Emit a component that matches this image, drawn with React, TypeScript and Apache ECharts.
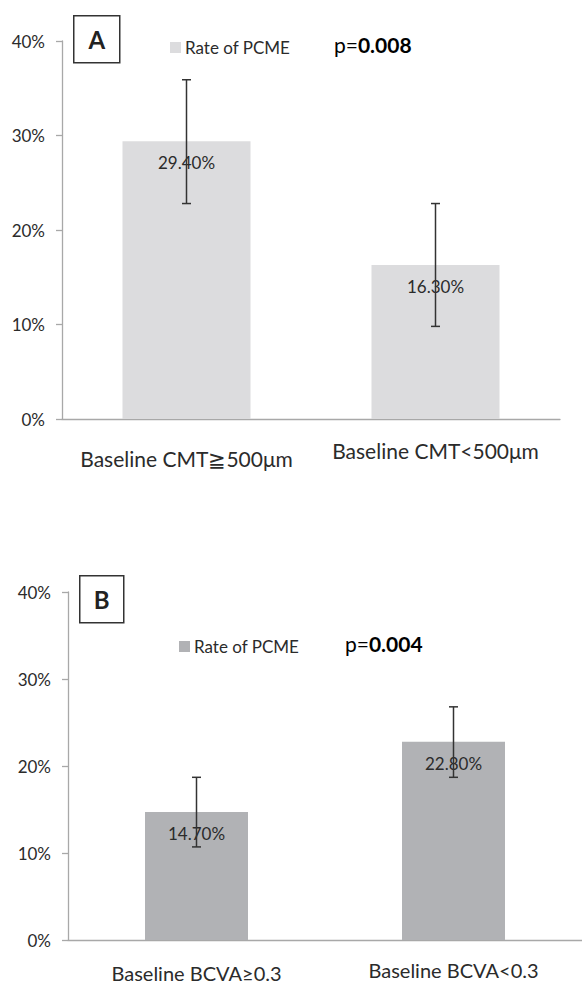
import React, { useEffect, useRef } from "react";
import * as echarts from "echarts";

// ---- Data ----
const categoriesA = ["Baseline CMT≧500μm", "Baseline CMT<500μm"];
const valuesA = [29.4, 16.3];
const lowA = [22.8, 9.8];
const highA = [35.9, 22.8];

const categoriesB = ["Baseline BCVA≥0.3", "Baseline BCVA<0.3"];
const valuesB = [14.7, 22.8];
const lowB = [10.7, 18.7];
const highB = [18.7, 26.8];

const yTicks = [0, 10, 20, 30, 40];
const seriesName = "Rate of PCME";
const pA = "0.008";
const pB = "0.004";
const panelA = "A";
const panelB = "B";

const FONT = "Lato, 'Open Sans', sans-serif";
const TEXT = "#2b2b2b";
const AXIS = "#a8a8a8";
const COLOR_A = "#dcdcde";
const COLOR_B = "#b1b2b5";

function errorRender(params: any, api: any) {
  const x = api.value(0);
  const lo = api.coord([x, api.value(1)]);
  const hi = api.coord([x, api.value(2)]);
  const cap = 4.5;
  const style = { stroke: "#333333", lineWidth: 1.5 };
  return {
    type: "group",
    children: [
      { type: "line", shape: { x1: hi[0], y1: hi[1], x2: lo[0], y2: lo[1] }, style },
      { type: "line", shape: { x1: hi[0] - cap, y1: hi[1], x2: hi[0] + cap, y2: hi[1] }, style },
      { type: "line", shape: { x1: lo[0] - cap, y1: lo[1], x2: lo[0] + cap, y2: lo[1] }, style },
    ],
  };
}

export default function App() {
  const ref = useRef<HTMLDivElement>(null);
  useEffect(() => {
    if (!ref.current) return;
    const chart = echarts.init(ref.current, null, { renderer: "svg" });

    const yAxisBase = (gridIndex: number) => ({
      type: "value",
      gridIndex,
      min: 0,
      max: 40,
      interval: 10,
      splitLine: { show: false },
      axisLine: { show: true, lineStyle: { color: AXIS, width: 1.3 } },
      axisTick: { show: true, length: 6, lineStyle: { color: AXIS, width: 1.3 } },
      axisLabel: {
        margin: 17,
        color: TEXT,
        fontFamily: FONT,
        fontSize: 17,
        formatter: (v: number) => (yTicks.includes(v) ? `${v}%` : ""),
      },
    });

    const xAxisBase = (gridIndex: number, cats: string[], pad: number, margin: number, size: number) => ({
      type: "category",
      gridIndex,
      data: cats,
      axisLine: { show: true, lineStyle: { color: AXIS, width: 1.3 } },
      axisTick: { show: false },
      axisLabel: {
        margin,
        interval: 0,
        color: TEXT,
        fontFamily: FONT,
        fontSize: size,
        formatter: (v: string, i: number) => (i === 0 ? `{a|${v}}` : `{b|${v}}`),
        rich: {
          a: { padding: [pad, 0, 0, 0], fontFamily: FONT, fontSize: size, color: TEXT },
          b: { fontFamily: FONT, fontSize: size, color: TEXT },
        },
      },
    });

    const barLabel = {
      show: true,
      position: "insideTop",
      distance: 13,
      color: TEXT,
      fontFamily: FONT,
      fontSize: 17,
      formatter: (p: any) => `${Number(p.value).toFixed(2)}%`,
    };

    const legendBase = (left: number, top: number, color: string) => ({
      show: true,
      left,
      top,
      padding: 0,
      icon: "rect",
      itemWidth: 11,
      itemHeight: 11,
      selectedMode: false,
      textStyle: { color: TEXT, fontFamily: FONT, fontSize: 17, padding: [0, 0, 0, -1] },
      data: [{ name: seriesName, itemStyle: { color } }],
    });

    const pText = (x: number, y: number, p: string) => ({
      type: "text",
      left: x,
      top: y,
      style: {
        text: `{n|p=}{b|${p}}`,
        rich: {
          n: { fontFamily: FONT, fontSize: 21, color: TEXT },
          b: { fontFamily: FONT, fontSize: 21, fontWeight: "bold", color: TEXT },
        },
      },
    });

    const box = (x: number, y: number, w: number, h: number, letter: string) => ({
      type: "group",
      left: x,
      top: y,
      children: [
        {
          type: "rect",
          shape: { x: 0, y: 0, width: w, height: h },
          style: { fill: "#ffffff", stroke: "#333333", lineWidth: 1.5 },
        },
        {
          type: "text",
          x: w / 2,
          y: h / 2,
          style: {
            text: letter,
            fontFamily: FONT,
            fontSize: 24,
            fontWeight: "bold",
            fill: "#222222",
            align: "center",
            verticalAlign: "middle",
          },
        },
      ],
    });

    chart.setOption({
      animation: false,
      backgroundColor: "#ffffff",
      grid: [
        { left: 62, right: 22, top: 41, bottom: 569 },
        { left: 68, right: -3, top: 592, bottom: 48 },
      ],
      xAxis: [xAxisBase(0, categoriesA, 8, 21, 21), xAxisBase(1, categoriesB, 3, 20, 20)],
      yAxis: [yAxisBase(0), yAxisBase(1)],
      legend: [legendBase(170, 39, COLOR_A), legendBase(179, 638, COLOR_B)],
      graphic: [
        box(73, 15, 46, 47, panelA),
        box(79, 575, 44, 47, panelB),
        pText(334, 34, pA),
        pText(345, 633, pB),
      ],
      series: [
        {
          name: seriesName,
          type: "bar",
          xAxisIndex: 0,
          yAxisIndex: 0,
          data: valuesA,
          barWidth: 128,
          itemStyle: { color: COLOR_A },
          label: barLabel,
        },
        {
          name: "errA",
          type: "custom",
          xAxisIndex: 0,
          yAxisIndex: 0,
          renderItem: errorRender,
          data: valuesA.map((_, i) => [i, lowA[i], highA[i]]),
          z: 5,
        },
        {
          name: seriesName,
          type: "bar",
          xAxisIndex: 1,
          yAxisIndex: 1,
          data: valuesB,
          barWidth: 103,
          itemStyle: { color: COLOR_B },
          label: barLabel,
        },
        {
          name: "errB",
          type: "custom",
          xAxisIndex: 1,
          yAxisIndex: 1,
          renderItem: errorRender,
          data: valuesB.map((_, i) => [i, lowB[i], highB[i]]),
          z: 5,
        },
      ],
    });

    return () => chart.dispose();
  }, []);

  return (
    <div
      ref={ref}
      style={{ position: "fixed", left: 0, top: 0, width: 582, height: 988, background: "#fff" }}
    />
  );
}
